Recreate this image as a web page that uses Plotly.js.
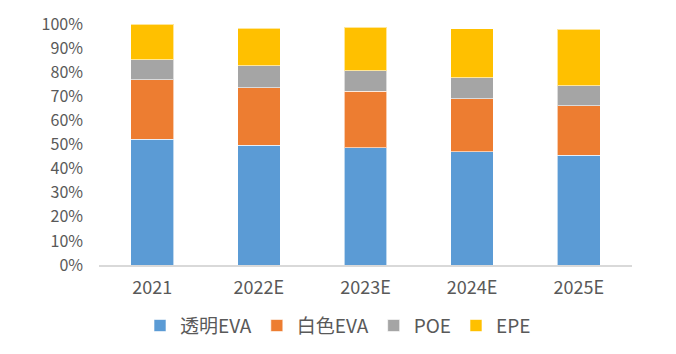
<!DOCTYPE html>
<html>
<head>
<meta charset="utf-8">
<script src="https://cdn.plot.ly/plotly-3.0.1.min.js"></script>
<style>html,body{margin:0;padding:0;background:#fff;}#chart{width:676px;height:354px;}</style>
</head>
<body>
<div id="chart"></div>
<script>
const categories = ["2021", "2022E", "2023E", "2024E", "2025E"];
const seriesNames = ["透明EVA", "白色EVA", "POE", "EPE"];
const transparentEVA = [0.522, 0.497, 0.487, 0.470, 0.455];
const whiteEVA = [0.247, 0.239, 0.234, 0.220, 0.206];
const poe = [0.083, 0.091, 0.085, 0.086, 0.083];
const epe = [0.148, 0.156, 0.180, 0.205, 0.234];
const colors = ["#5B9BD5", "#ED7D31", "#A5A5A5", "#FFC000"];

const values = [transparentEVA, whiteEVA, poe, epe];
const traces = values.map((v, i) => ({
  type: "bar",
  name: seriesNames[i],
  x: categories,
  y: v,
  marker: {color: colors[i], line: {color: "rgba(255,255,255,0.6)", width: 1}},
  hoverinfo: "skip"
}));

const layout = {
  width: 676, height: 354,
  margin: {l: 99, r: 44, t: 24, b: 89, autoexpand: false},
  barmode: "stack",
  bargap: 0.6,
  paper_bgcolor: "#fff", plot_bgcolor: "#fff",
  font: {family: "'Noto Sans CJK SC', 'DejaVu Sans', sans-serif", size: 16, color: "#595959"},
  xaxis: {
    showline: true, linecolor: "#D9D9D9", linewidth: 1.5,
    ticks: "", showgrid: false, tickfont: {size: 18, color: "#595959"},
    ticklabelstandoff: 6
  },
  yaxis: {
    range: [0, 1], dtick: 0.1, tickformat: ".0%",
    showgrid: false, zeroline: false, showline: false, ticks: "",
    ticklabelstandoff: 15,
    tickfont: {size: 16, color: "#595959"}
  },
  legend: {
    orientation: "h", x: 0.50, xref: "container", xanchor: "center",
    y: 0.08, yref: "container", yanchor: "middle",
    font: {size: 19, color: "#595959"}, traceorder: "normal",
    itemwidth: 30
  },
  showlegend: true
};

Plotly.newPlot("chart", traces, layout, {displayModeBar: false, staticPlot: true});
</script>
</body>
</html>
